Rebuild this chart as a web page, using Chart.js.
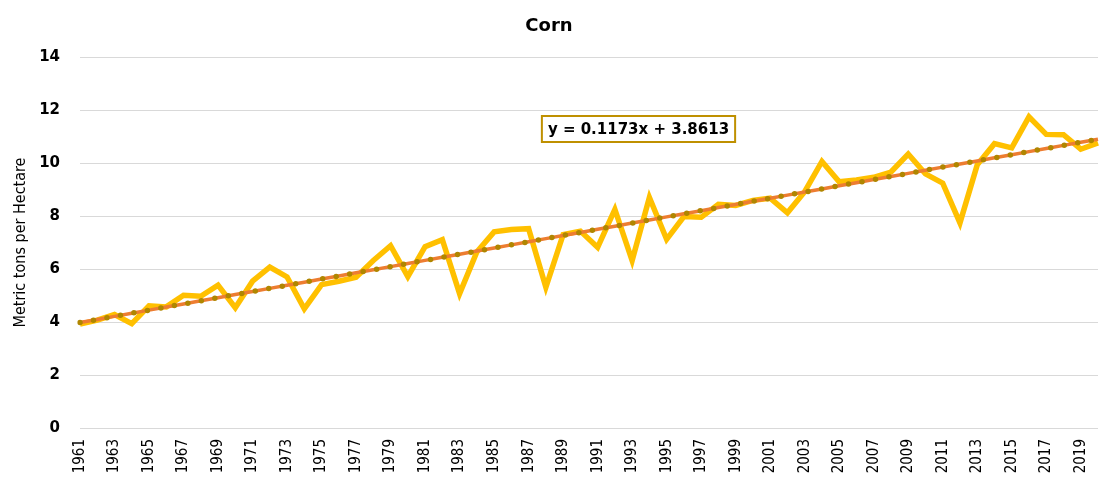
<!DOCTYPE html>
<html>
<head>
<meta charset="utf-8">
<script src="https://cdn.jsdelivr.net/npm/chart.js@4.4.1/dist/chart.umd.min.js"></script>
<style>
html,body{margin:0;padding:0;background:#fff;}
#wrap{width:1107px;height:480px;position:relative;}
</style>
</head>
<body>
<div id="wrap"><canvas id="c" width="1107" height="480"></canvas></div>
<script>
const years = [];
for (let y = 1961; y <= 2020; y++) years.push(String(y));
const cornYield = [3.92,4.07,4.28,3.94,4.61,4.57,5.01,4.97,5.39,4.54,
  5.54,6.07,5.70,4.50,5.41,5.54,5.69,6.32,6.88,5.71,
  6.84,7.11,5.07,6.64,7.40,7.49,7.52,5.31,7.30,7.43,
  6.82,8.25,6.32,8.70,7.12,7.98,7.95,8.44,8.40,8.59,
  8.67,8.12,8.92,10.06,9.29,9.36,9.46,9.66,10.34,9.59,
  9.24,7.74,9.93,10.73,10.57,11.74,11.08,11.07,10.52,10.76];
const trendSlope = 0.1173;
const trendIntercept = 3.8613;
const trend = years.map((_, i) => +(trendSlope * (i + 1) + trendIntercept).toFixed(4));
const equationText = 'y = 0.1173x + 3.8613';
const yTicks = [0, 2, 4, 6, 8, 10, 12, 14];

const eqBox = {
  id: 'eqBox',
  afterDatasetsDraw(chart) {
    const ctx = chart.ctx;
    ctx.save();
    ctx.font = 'bold 15px "DejaVu Sans"';
    const w = ctx.measureText(equationText).width;
    const cx = 638.5, cy = 129;
    const bw = w + 12, bh = 26;
    ctx.fillStyle = '#fff';
    ctx.fillRect(cx - bw / 2, cy - bh / 2, bw, bh);
    ctx.strokeStyle = '#BF9000';
    ctx.lineWidth = 2;
    ctx.strokeRect(cx - bw / 2, cy - bh / 2, bw, bh);
    ctx.fillStyle = '#000';
    ctx.textAlign = 'center';
    ctx.textBaseline = 'middle';
    ctx.fillText(equationText, cx, cy + 1);
    ctx.restore();
  }
};

new Chart(document.getElementById('c'), {
  type: 'line',
  data: {
    labels: years,
    datasets: [
      {
        label: 'trend dots',
        data: trend,
        borderColor: '#B08600',
        borderWidth: 5.5,
        borderDash: [0, 13.7],
        borderCapStyle: 'round',
        pointRadius: 0,
        fill: false,
        tension: 0
      },
      {
        label: 'Linear (Corn)',
        data: trend,
        borderColor: '#ED7D31',
        borderWidth: 3.5,
        pointRadius: 0,
        fill: false,
        tension: 0
      },
      {
        label: 'Corn',
        data: cornYield,
        borderColor: '#FFC000',
        borderWidth: 5.5,
        borderJoinStyle: 'miter',
        pointRadius: 0,
        fill: false,
        tension: 0
      }
    ]
  },
  options: {
    responsive: false,
    animation: false,
    layout: { padding: { left: 0, right: 9, top: 0, bottom: 0 } },
    plugins: {
      legend: { display: false },
      tooltip: { enabled: false },
      title: {
        display: true,
        text: 'Corn',
        color: '#000',
        font: { family: '"DejaVu Sans"', size: 18, weight: 'bold' },
        padding: { top: 16, bottom: 19.4 }
      }
    },
    scales: {
      x: {
        offset: false,
        grid: { display: false },
        border: { display: false },
        afterFit: (s) => { s.height = 52; s.paddingRight = 0; s.paddingLeft = 0; },
        ticks: {
          autoSkip: false,
          maxRotation: 90,
          minRotation: 90,
          padding: 3,
          color: '#000',
          font: { family: '"DejaVu Sans Condensed", "DejaVu Sans", sans-serif', size: 15 },
          callback: function (v, i) { return i % 2 === 0 ? this.getLabelForValue(v) : ''; }
        }
      },
      y: {
        min: 0,
        max: 14,
        afterFit: (s) => { s.width = 80; },
        afterBuildTicks: (s) => { s.ticks = yTicks.map(v => ({ value: v })); },
        grid: { color: '#D9D9D9', lineWidth: 1, drawTicks: false },
        border: { display: false },
        ticks: {
          padding: 20,
          color: '#000',
          font: { family: '"DejaVu Sans"', size: 15, weight: 'bold' }
        },
        title: {
          display: true,
          text: 'Metric tons per Hectare',
          color: '#000',
          font: { family: '"DejaVu Sans Condensed", "DejaVu Sans", sans-serif', size: 16 },
          padding: { top: 11, bottom: 0 }
        }
      }
    }
  },
  plugins: [eqBox]
});
</script>
</body>
</html>
